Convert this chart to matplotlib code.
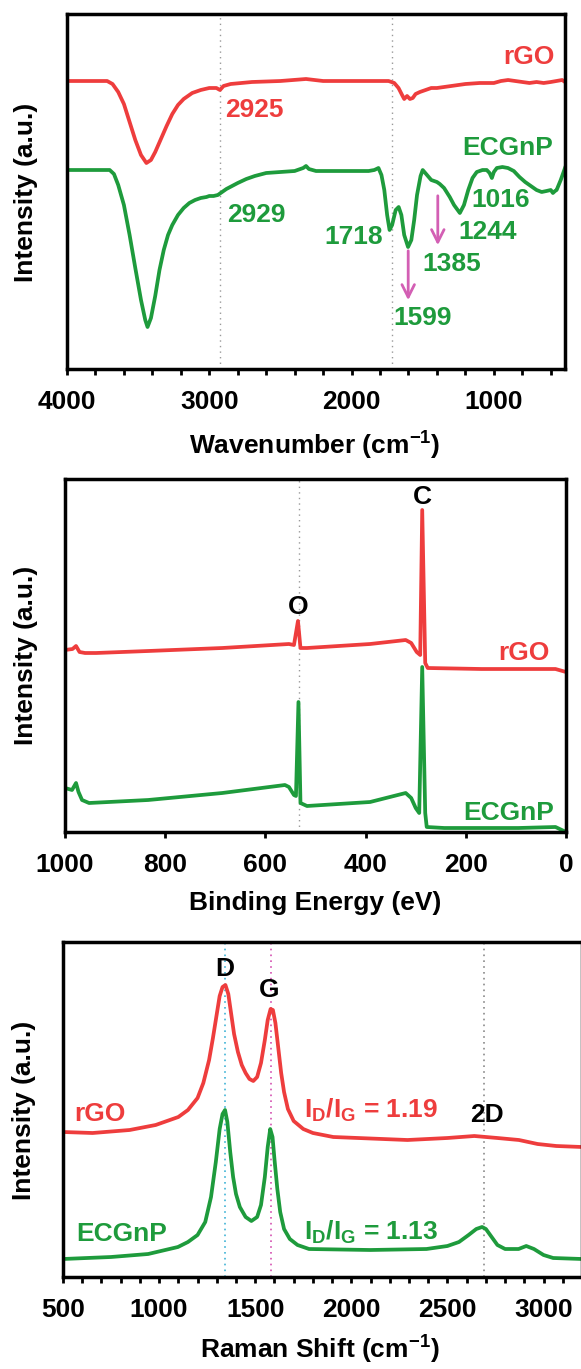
import matplotlib
matplotlib.use("Agg")
import matplotlib.pyplot as plt
from matplotlib.ticker import MultipleLocator

plt.rcParams['font.family'] = ['Liberation Sans', 'DejaVu Sans']
plt.rcParams['font.weight'] = 'bold'
plt.rcParams['axes.labelweight'] = 'bold'

RED = '#ee3d3d'
GREEN = '#1e9b3c'
PINK = '#d35fb4'
FS = 19

# ---- FTIR (panel 1) ----
ftir_x_rgo = [4000, 3800, 3718, 3680, 3640, 3600, 3560, 3520, 3480, 3442, 3410, 3380, 3340, 3300,
              3260, 3220, 3180, 3120, 3060, 3000, 2950, 2925, 2900, 2850, 2700, 2500, 2320, 2200,
              2000, 1800, 1740, 1700, 1670, 1645, 1630, 1610, 1590, 1570, 1550, 1520, 1480, 1440,
              1400, 1350, 1300, 1250, 1200, 1100, 1000, 950, 900, 850, 800, 750, 700, 650, 600,
              560, 520, 500]
ftir_y_rgo = [288, 288, 288, 285, 277, 265, 247, 229, 214, 206, 209, 217, 230, 243,
              255, 264, 270, 276, 279, 281, 281, 279, 283, 285, 287, 288, 290, 288,
              288, 288, 288, 286, 281, 274, 270, 273, 270, 271, 275, 277, 279, 281,
              281, 282, 283, 284, 285, 286, 286, 288, 289, 288, 287, 286, 287, 286, 287,
              288, 289, 287]

ftir_x_ecg = [4000, 3800, 3700, 3670, 3640, 3600, 3560, 3520, 3480, 3450, 3434, 3410, 3380, 3350,
              3320, 3290, 3260, 3220, 3180, 3140, 3100, 3060, 3020, 3000, 2970, 2940, 2910, 2880,
              2840, 2800, 2740, 2680, 2600, 2500, 2400, 2340, 2320, 2300, 2250, 2000, 1880, 1840,
              1811, 1790, 1770, 1750, 1733, 1715, 1690, 1669, 1650, 1630, 1603, 1580, 1560, 1540,
              1515, 1500, 1470, 1440, 1400, 1380, 1350, 1310, 1280, 1239, 1210, 1180, 1150, 1120,
              1080, 1050, 1030, 1014, 1000, 979, 940, 901, 860, 820, 780, 740, 700, 664, 630,
              600, 585, 570, 559, 530, 500]
ftir_y_ecg = [199, 199, 199, 195, 184, 164, 134, 101, 69, 49, 42, 51, 73, 99,
              119, 134, 144, 154, 161, 166, 169, 171, 172, 173, 173, 174, 177, 180,
              183, 186, 190, 193, 196, 197, 198, 201, 203, 200, 198, 198, 198, 199,
              201, 194, 179, 154, 139, 144, 159, 162, 154, 134, 122, 129, 149, 174,
              193, 199, 194, 189, 187, 185, 181, 172, 164, 156, 164, 179, 191, 197,
              199, 199, 196, 191, 197, 201, 202, 201, 198, 192, 187, 183, 179, 177, 178,
              179, 176, 178, 179, 189, 201]

ftir_marks = [2925, 1718]

# ---- XPS (panel 2) ----
xps_x_rgo = [1000, 985, 978, 971, 960, 938, 834, 686, 553, 543, 535, 530, 517, 391, 320, 309,
             298, 291, 287, 281, 276, 169, 21, 0]
xps_y_rgo = [182, 183, 186, 180, 179, 179, 181, 184, 188, 187, 211, 184, 184, 188, 192, 189,
             180, 177, 322, 169, 164, 163, 163, 160]

xps_x_ecg = [1000, 986, 978, 973, 966, 952, 834, 686, 561, 553, 543, 539, 534, 530, 517, 391,
             320, 309, 300, 293, 287, 281, 278, 243, 95, 21, 0]
xps_y_ecg = [44, 42, 49, 40, 32, 29, 32, 39, 47, 45, 37, 36, 130, 29, 26, 30,
             39, 34, 24, 19, 165, 19, 5, 4, 4, 5, 0]

xps_mark = 533

# ---- Raman (panel 3) ----
ram_x_rgo = [500, 654, 847, 982, 1100, 1150, 1200, 1230, 1260, 1280, 1300, 1315, 1330, 1345,
             1360, 1375, 1390, 1410, 1430, 1450, 1470, 1490, 1510, 1530, 1550, 1565, 1580,
             1592, 1605, 1620, 1635, 1650, 1670, 1700, 1750, 1800, 1906, 2292, 2500, 2640,
             2760, 2872, 2969, 3066, 3200]
ram_y_rgo = [145, 144, 147, 152, 160, 167, 179, 194, 217, 239, 263, 281, 290, 292,
             283, 263, 243, 225, 212, 204, 198, 196, 200, 214, 237, 257, 268,
             267, 254, 229, 204, 185, 168, 156, 148, 144, 140, 137, 139, 141,
             139, 137, 133, 131, 130]

ram_x_ecg = [500, 750, 943, 1098, 1150, 1200, 1240, 1270, 1295, 1315, 1330, 1343, 1355, 1370,
             1385, 1400, 1420, 1450, 1480, 1510, 1530, 1550, 1565, 1578, 1590, 1600, 1615,
             1630, 1650, 1680, 1720, 1780, 2099, 2391, 2500, 2560, 2610, 2650, 2680, 2700,
             2730, 2760, 2800, 2870, 2910, 2950, 3000, 3050, 3200]
ram_y_ecg = [18, 20, 23, 30, 35, 42, 55, 80, 115, 148, 163, 167, 155, 125,
             100, 83, 70, 60, 56, 60, 72, 100, 130, 148, 140, 118, 88,
             65, 48, 38, 32, 28, 27, 28, 31, 35, 42, 48, 50, 48,
             40, 32, 28, 28, 31, 28, 22, 19, 18]

ram_marks = [1345, 1580, 2690]
ram_mark_colors = ['#3fb3d6', '#d44fb0', '#8a8a8a']

W, H = 581, 1369
fig = plt.figure(figsize=(W / 100, H / 100), dpi=100)


def box(l, t, r, b):
    return [l / W, 1 - b / H, (r - l) / W, (b - t) / H]


def style(ax):
    for s in ax.spines.values():
        s.set_linewidth(2.5)
    ax.set_yticks([])
    ax.tick_params(axis='x', which='both', direction='out', length=4, width=2,
                   labelsize=FS, pad=11)


def figtext(px, py, s, **kw):
    fig.text(px / W, 1 - py / H, s, ha='center', va='center', fontsize=FS,
             fontweight='bold', **kw)


LW = 2.7
kw = dict(ha='center', va='center', fontsize=FS, fontweight='bold')

# panel 1
ax1 = fig.add_axes(box(67, 14, 565, 369))
for m in ftir_marks:
    ax1.axvline(m, color='#999999', lw=1, ls=(0, (1, 3)))
ax1.plot(ftir_x_rgo, ftir_y_rgo, color=RED, lw=LW)
ax1.plot(ftir_x_ecg, ftir_y_ecg, color=GREEN, lw=LW)
ax1.set_xlim(4000, 500)
ax1.set_ylim(0, 355)
ax1.xaxis.set_major_locator(MultipleLocator(1000))
ax1.xaxis.set_minor_locator(MultipleLocator(200))
style(ax1)
ax1.text(754, 312, 'rGO', color=RED, **kw)
ax1.text(2683, 259, '2925', color=RED, **kw)
ax1.text(901, 221, 'ECGnP', color=GREEN, **kw)
ax1.text(2672, 154, '2929', color=GREEN, **kw)
ax1.text(1988, 132, '1718', color=GREEN, **kw)
ax1.text(1500, 51, '1599', color=GREEN, **kw)
ax1.text(1296, 105, '1385', color=GREEN, **kw)
ax1.text(1042, 137, '1244', color=GREEN, **kw)
ax1.text(951, 169, '1016', color=GREEN, **kw)
arr = dict(arrowstyle='->,head_length=0.9,head_width=0.45', color=PINK, lw=2)
ax1.annotate('', xy=(1602, 66), xytext=(1602, 121), arrowprops=arr)
ax1.annotate('', xy=(1394, 121), xytext=(1394, 176), arrowprops=arr)

# panel 2
ax2 = fig.add_axes(box(65, 479, 566, 832))
ax2.axvline(xps_mark, color='#999999', lw=1, ls=(0, (1, 3)))
ax2.plot(xps_x_rgo, xps_y_rgo, color=RED, lw=LW)
ax2.plot(xps_x_ecg, xps_y_ecg, color=GREEN, lw=LW)
ax2.set_xlim(1000, 0)
ax2.set_ylim(0, 353)
ax2.xaxis.set_major_locator(MultipleLocator(200))
style(ax2)
ax2.text(287, 335, 'C', color='black', **kw)
ax2.text(535, 225, 'O', color='black', **kw)
ax2.text(84, 179, 'rGO', color=RED, **kw)
ax2.text(114, 19, 'ECGnP', color=GREEN, **kw)

# panel 3
ax3 = fig.add_axes(box(63, 942, 582, 1277))
for m, c in zip(ram_marks, ram_mark_colors):
    ax3.axvline(m, color=c, lw=1.2, ls=(0, (1, 2.5)))
ax3.plot(ram_x_rgo, ram_y_rgo, color=RED, lw=LW)
ax3.plot(ram_x_ecg, ram_y_ecg, color=GREEN, lw=LW)
ax3.set_xlim(500, 3200)
ax3.set_ylim(0, 335)
ax3.xaxis.set_major_locator(MultipleLocator(500))
ax3.xaxis.set_minor_locator(MultipleLocator(100))
style(ax3)
ax3.text(1339, 308, 'D', color='black', **kw)
ax3.text(1573, 287, 'G', color='black', **kw)
ax3.text(2708, 162, '2D', color='black', **kw)
ax3.text(693, 163, 'rGO', color=RED, **kw)
ax3.text(807, 43, 'ECGnP', color=GREEN, **kw)
ax3.text(1753, 167, r'I$_\mathregular{D}$/I$_\mathregular{G}$ = 1.19', color=RED,
         ha='left', va='center', fontsize=FS, fontweight='bold')
ax3.text(1753, 45, r'I$_\mathregular{D}$/I$_\mathregular{G}$ = 1.13', color=GREEN,
         ha='left', va='center', fontsize=FS, fontweight='bold')

# axis labels
figtext(315, 446, r'Wavenumber (cm$\mathregular{^{-1}}$)')
figtext(315, 903, 'Binding Energy (eV)')
figtext(320, 1350, r'Raman Shift (cm$\mathregular{^{-1}}$)')
figtext(26, 192, 'Intensity (a.u.)', rotation=90)
figtext(26, 655, 'Intensity (a.u.)', rotation=90)
figtext(24, 1110, 'Intensity (a.u.)', rotation=90)

fig.savefig('out.png', dpi=100)
